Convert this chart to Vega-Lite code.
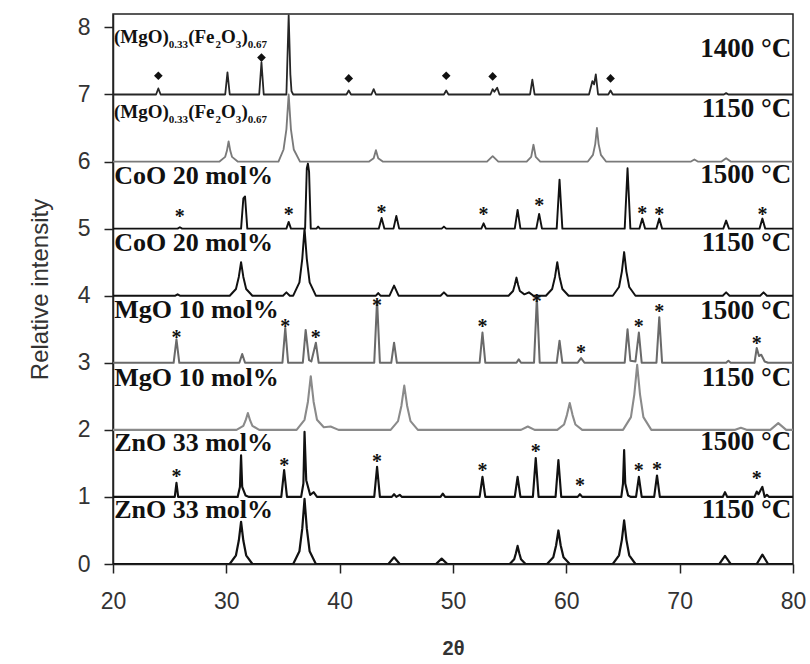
{
  "$schema": "https://vega.github.io/schema/vega-lite/v6.json",
  "width": 680,
  "height": 550,
  "autosize": {"type": "none"},
  "padding": {"left": 113, "top": 14, "right": 17, "bottom": 100},
  "background": "white",
  "datasets": {
    "tr": [
      {"s":"Z0","x":20,"y":0},{"s":"Z0","x":30.3,"y":0},{"s":"Z0","x":30.85,"y":0.13},{"s":"Z0","x":31.1,"y":0.35},{"s":"Z0","x":31.3,"y":0.63},{"s":"Z0","x":31.5,"y":0.35},{"s":"Z0","x":31.75,"y":0.13},{"s":"Z0","x":32.3,"y":0},
      {"s":"Z0","x":35.9,"y":0},{"s":"Z0","x":36.45,"y":0.19},{"s":"Z0","x":36.7,"y":0.53},{"s":"Z0","x":36.9,"y":0.97},{"s":"Z0","x":37.1,"y":0.53},{"s":"Z0","x":37.35,"y":0.19},{"s":"Z0","x":37.9,"y":0},
      {"s":"Z0","x":44.3,"y":0},{"s":"Z0","x":44.8,"y":0.1},{"s":"Z0","x":45.3,"y":0},{"s":"Z0","x":48.5,"y":0},{"s":"Z0","x":49.0,"y":0.08},{"s":"Z0","x":49.5,"y":0},
      {"s":"Z0","x":55.0,"y":0},{"s":"Z0","x":55.4,"y":0.07},{"s":"Z0","x":55.55,"y":0.16},{"s":"Z0","x":55.7,"y":0.27},{"s":"Z0","x":55.85,"y":0.16},{"s":"Z0","x":56.0,"y":0.07},{"s":"Z0","x":56.4,"y":0},
      {"s":"Z0","x":58.3,"y":0},{"s":"Z0","x":58.85,"y":0.1},{"s":"Z0","x":59.1,"y":0.28},{"s":"Z0","x":59.3,"y":0.5},{"s":"Z0","x":59.5,"y":0.28},{"s":"Z0","x":59.75,"y":0.1},{"s":"Z0","x":60.3,"y":0},
      {"s":"Z0","x":64.1,"y":0},{"s":"Z0","x":64.65,"y":0.13},{"s":"Z0","x":64.9,"y":0.36},{"s":"Z0","x":65.1,"y":0.65},{"s":"Z0","x":65.3,"y":0.36},{"s":"Z0","x":65.55,"y":0.13},{"s":"Z0","x":66.1,"y":0},
      {"s":"Z0","x":73.5,"y":0},{"s":"Z0","x":74.0,"y":0.12},{"s":"Z0","x":74.5,"y":0},{"s":"Z0","x":76.8,"y":0},{"s":"Z0","x":77.3,"y":0.14},{"s":"Z0","x":77.8,"y":0},{"s":"Z0","x":80,"y":0},

      {"s":"Z1","x":20,"y":1},{"s":"Z1","x":25.45,"y":1},{"s":"Z1","x":25.6,"y":1.21},{"s":"Z1","x":25.75,"y":1},
      {"s":"Z1","x":31.0,"y":1},{"s":"Z1","x":31.2,"y":1.15},{"s":"Z1","x":31.3,"y":1.62},{"s":"Z1","x":31.4,"y":1.15},{"s":"Z1","x":31.7,"y":1.02},{"s":"Z1","x":32.0,"y":1},
      {"s":"Z1","x":34.85,"y":1},{"s":"Z1","x":35.1,"y":1.4},{"s":"Z1","x":35.35,"y":1},
      {"s":"Z1","x":36.6,"y":1},{"s":"Z1","x":36.8,"y":1.2},{"s":"Z1","x":36.9,"y":1.97},{"s":"Z1","x":37.05,"y":1.25},{"s":"Z1","x":37.4,"y":1.03},{"s":"Z1","x":37.7,"y":1.07},{"s":"Z1","x":38.0,"y":1},
      {"s":"Z1","x":43.05,"y":1},{"s":"Z1","x":43.3,"y":1.45},{"s":"Z1","x":43.55,"y":1},
      {"s":"Z1","x":44.6,"y":1},{"s":"Z1","x":44.8,"y":1.04},{"s":"Z1","x":45.0,"y":1},{"s":"Z1","x":45.3,"y":1.03},{"s":"Z1","x":45.5,"y":1},
      {"s":"Z1","x":48.9,"y":1},{"s":"Z1","x":49.1,"y":1.05},{"s":"Z1","x":49.3,"y":1},
      {"s":"Z1","x":52.35,"y":1},{"s":"Z1","x":52.6,"y":1.3},{"s":"Z1","x":52.85,"y":1},
      {"s":"Z1","x":55.45,"y":1},{"s":"Z1","x":55.7,"y":1.3},{"s":"Z1","x":55.95,"y":1},
      {"s":"Z1","x":57.05,"y":1},{"s":"Z1","x":57.3,"y":1.58},{"s":"Z1","x":57.55,"y":1},
      {"s":"Z1","x":59.05,"y":1},{"s":"Z1","x":59.3,"y":1.55},{"s":"Z1","x":59.55,"y":1},
      {"s":"Z1","x":61.0,"y":1},{"s":"Z1","x":61.2,"y":1.04},{"s":"Z1","x":61.4,"y":1},
      {"s":"Z1","x":64.85,"y":1},{"s":"Z1","x":65.0,"y":1.2},{"s":"Z1","x":65.1,"y":1.7},{"s":"Z1","x":65.2,"y":1.2},{"s":"Z1","x":65.45,"y":1.02},{"s":"Z1","x":65.7,"y":1},
      {"s":"Z1","x":66.15,"y":1},{"s":"Z1","x":66.4,"y":1.3},{"s":"Z1","x":66.65,"y":1},
      {"s":"Z1","x":67.75,"y":1},{"s":"Z1","x":68.0,"y":1.32},{"s":"Z1","x":68.25,"y":1},
      {"s":"Z1","x":73.8,"y":1},{"s":"Z1","x":74.0,"y":1.07},{"s":"Z1","x":74.2,"y":1},
      {"s":"Z1","x":76.6,"y":1},{"s":"Z1","x":76.8,"y":1.08},{"s":"Z1","x":76.95,"y":1.04},{"s":"Z1","x":77.3,"y":1.15},{"s":"Z1","x":77.5,"y":1},{"s":"Z1","x":77.7,"y":1.03},{"s":"Z1","x":77.9,"y":1},{"s":"Z1","x":80,"y":1},

      {"s":"M2","x":20,"y":2},{"s":"M2","x":30.9,"y":2},{"s":"M2","x":31.5,"y":2.06},{"s":"M2","x":31.7,"y":2.14},{"s":"M2","x":31.9,"y":2.25},{"s":"M2","x":32.1,"y":2.14},{"s":"M2","x":32.3,"y":2.06},{"s":"M2","x":32.9,"y":2},
      {"s":"M2","x":36.2,"y":2},{"s":"M2","x":36.9,"y":2.15},{"s":"M2","x":37.2,"y":2.42},{"s":"M2","x":37.45,"y":2.8},{"s":"M2","x":37.7,"y":2.42},{"s":"M2","x":38.0,"y":2.15},{"s":"M2","x":38.6,"y":2.04},{"s":"M2","x":39.2,"y":2.05},{"s":"M2","x":39.9,"y":2},
      {"s":"M2","x":44.5,"y":2},{"s":"M2","x":45.15,"y":2.13},{"s":"M2","x":45.45,"y":2.36},{"s":"M2","x":45.7,"y":2.66},{"s":"M2","x":45.95,"y":2.36},{"s":"M2","x":46.25,"y":2.13},{"s":"M2","x":46.9,"y":2},
      {"s":"M2","x":56.0,"y":2},{"s":"M2","x":56.6,"y":2.05},{"s":"M2","x":57.2,"y":2},
      {"s":"M2","x":59.2,"y":2},{"s":"M2","x":59.8,"y":2.08},{"s":"M2","x":60.05,"y":2.22},{"s":"M2","x":60.3,"y":2.4},{"s":"M2","x":60.55,"y":2.22},{"s":"M2","x":60.8,"y":2.08},{"s":"M2","x":61.4,"y":2},
      {"s":"M2","x":65.0,"y":2},{"s":"M2","x":65.7,"y":2.19},{"s":"M2","x":66.0,"y":2.53},{"s":"M2","x":66.25,"y":2.97},{"s":"M2","x":66.5,"y":2.53},{"s":"M2","x":66.8,"y":2.19},{"s":"M2","x":67.5,"y":2},
      {"s":"M2","x":74.9,"y":2},{"s":"M2","x":75.4,"y":2.03},{"s":"M2","x":75.9,"y":2},{"s":"M2","x":78.0,"y":2},{"s":"M2","x":78.7,"y":2.1},{"s":"M2","x":79.4,"y":2},{"s":"M2","x":80,"y":2},

      {"s":"M3","x":20,"y":3},{"s":"M3","x":25.35,"y":3},{"s":"M3","x":25.6,"y":3.35},{"s":"M3","x":25.85,"y":3},
      {"s":"M3","x":31.15,"y":3},{"s":"M3","x":31.4,"y":3.13},{"s":"M3","x":31.65,"y":3},
      {"s":"M3","x":34.95,"y":3},{"s":"M3","x":35.2,"y":3.52},{"s":"M3","x":35.45,"y":3},
      {"s":"M3","x":36.75,"y":3},{"s":"M3","x":37.0,"y":3.49},{"s":"M3","x":37.3,"y":3.04},{"s":"M3","x":37.5,"y":3.02},{"s":"M3","x":37.9,"y":3.3},{"s":"M3","x":38.15,"y":3},
      {"s":"M3","x":43.05,"y":3},{"s":"M3","x":43.3,"y":3.93},{"s":"M3","x":43.55,"y":3},
      {"s":"M3","x":44.55,"y":3},{"s":"M3","x":44.8,"y":3.3},{"s":"M3","x":45.05,"y":3},
      {"s":"M3","x":52.35,"y":3},{"s":"M3","x":52.6,"y":3.45},{"s":"M3","x":52.85,"y":3},
      {"s":"M3","x":55.6,"y":3},{"s":"M3","x":55.8,"y":3.05},{"s":"M3","x":56.0,"y":3},
      {"s":"M3","x":57.15,"y":3},{"s":"M3","x":57.4,"y":3.97},{"s":"M3","x":57.65,"y":3},
      {"s":"M3","x":59.15,"y":3},{"s":"M3","x":59.4,"y":3.33},{"s":"M3","x":59.65,"y":3},
      {"s":"M3","x":61.0,"y":3},{"s":"M3","x":61.3,"y":3.07},{"s":"M3","x":61.6,"y":3},
      {"s":"M3","x":65.15,"y":3},{"s":"M3","x":65.4,"y":3.5},{"s":"M3","x":65.65,"y":3.03},{"s":"M3","x":66.1,"y":3.02},{"s":"M3","x":66.4,"y":3.45},{"s":"M3","x":66.65,"y":3},
      {"s":"M3","x":67.95,"y":3},{"s":"M3","x":68.2,"y":3.68},{"s":"M3","x":68.45,"y":3},
      {"s":"M3","x":74.1,"y":3},{"s":"M3","x":74.3,"y":3.03},{"s":"M3","x":74.5,"y":3},
      {"s":"M3","x":76.6,"y":3},{"s":"M3","x":76.8,"y":3.22},{"s":"M3","x":77.0,"y":3.1},{"s":"M3","x":77.2,"y":3.12},{"s":"M3","x":77.5,"y":3.02},{"s":"M3","x":77.8,"y":3},{"s":"M3","x":80,"y":3},

      {"s":"C4","x":20,"y":4},{"s":"C4","x":25.5,"y":4},{"s":"C4","x":25.7,"y":4.02},{"s":"C4","x":25.9,"y":4},
      {"s":"C4","x":30.3,"y":4},{"s":"C4","x":30.85,"y":4.1},{"s":"C4","x":31.1,"y":4.28},{"s":"C4","x":31.3,"y":4.5},{"s":"C4","x":31.5,"y":4.28},{"s":"C4","x":31.75,"y":4.1},{"s":"C4","x":32.3,"y":4},
      {"s":"C4","x":35.0,"y":4},{"s":"C4","x":35.3,"y":4.05},{"s":"C4","x":35.6,"y":4},
      {"s":"C4","x":35.9,"y":4},{"s":"C4","x":36.45,"y":4.2},{"s":"C4","x":36.7,"y":4.55},{"s":"C4","x":36.9,"y":5.0},{"s":"C4","x":37.1,"y":4.55},{"s":"C4","x":37.35,"y":4.2},{"s":"C4","x":37.9,"y":4},
      {"s":"C4","x":43.2,"y":4},{"s":"C4","x":43.4,"y":4.04},{"s":"C4","x":43.6,"y":4},
      {"s":"C4","x":44.4,"y":4},{"s":"C4","x":44.8,"y":4.15},{"s":"C4","x":45.2,"y":4},
      {"s":"C4","x":48.9,"y":4},{"s":"C4","x":49.2,"y":4.05},{"s":"C4","x":49.5,"y":4},
      {"s":"C4","x":54.9,"y":4},{"s":"C4","x":55.3,"y":4.07},{"s":"C4","x":55.45,"y":4.16},{"s":"C4","x":55.6,"y":4.27},{"s":"C4","x":55.75,"y":4.16},{"s":"C4","x":55.9,"y":4.07},{"s":"C4","x":56.3,"y":4.02},{"s":"C4","x":56.7,"y":4.05},{"s":"C4","x":57.1,"y":4},
      {"s":"C4","x":58.2,"y":4},{"s":"C4","x":58.75,"y":4.1},{"s":"C4","x":59.0,"y":4.28},{"s":"C4","x":59.2,"y":4.5},{"s":"C4","x":59.4,"y":4.28},{"s":"C4","x":59.65,"y":4.1},{"s":"C4","x":60.2,"y":4},
      {"s":"C4","x":64.1,"y":4},{"s":"C4","x":64.65,"y":4.13},{"s":"C4","x":64.9,"y":4.36},{"s":"C4","x":65.1,"y":4.65},{"s":"C4","x":65.3,"y":4.36},{"s":"C4","x":65.55,"y":4.13},{"s":"C4","x":66.1,"y":4},
      {"s":"C4","x":73.8,"y":4},{"s":"C4","x":74.1,"y":4.05},{"s":"C4","x":74.4,"y":4},{"s":"C4","x":77.1,"y":4},{"s":"C4","x":77.4,"y":4.05},{"s":"C4","x":77.7,"y":4},{"s":"C4","x":80,"y":4},

      {"s":"C5","x":20,"y":5},{"s":"C5","x":25.7,"y":5},{"s":"C5","x":25.9,"y":5.02},{"s":"C5","x":26.1,"y":5},
      {"s":"C5","x":31.3,"y":5},{"s":"C5","x":31.5,"y":5.45},{"s":"C5","x":31.65,"y":5.48},{"s":"C5","x":31.85,"y":5},
      {"s":"C5","x":35.3,"y":5},{"s":"C5","x":35.5,"y":5.1},{"s":"C5","x":35.7,"y":5},
      {"s":"C5","x":36.95,"y":5},{"s":"C5","x":37.1,"y":5.9},{"s":"C5","x":37.2,"y":5.97},{"s":"C5","x":37.3,"y":5.85},{"s":"C5","x":37.45,"y":5},
      {"s":"C5","x":37.95,"y":5},{"s":"C5","x":38.1,"y":5.03},{"s":"C5","x":38.25,"y":5},
      {"s":"C5","x":43.45,"y":5},{"s":"C5","x":43.7,"y":5.16},{"s":"C5","x":43.95,"y":5},
      {"s":"C5","x":44.75,"y":5},{"s":"C5","x":45.0,"y":5.19},{"s":"C5","x":45.25,"y":5},
      {"s":"C5","x":49.0,"y":5},{"s":"C5","x":49.2,"y":5.03},{"s":"C5","x":49.4,"y":5},
      {"s":"C5","x":52.5,"y":5},{"s":"C5","x":52.7,"y":5.08},{"s":"C5","x":52.9,"y":5},
      {"s":"C5","x":55.45,"y":5},{"s":"C5","x":55.7,"y":5.28},{"s":"C5","x":55.95,"y":5},
      {"s":"C5","x":57.35,"y":5},{"s":"C5","x":57.6,"y":5.22},{"s":"C5","x":57.85,"y":5},
      {"s":"C5","x":59.15,"y":5},{"s":"C5","x":59.4,"y":5.73},{"s":"C5","x":59.65,"y":5},
      {"s":"C5","x":65.15,"y":5},{"s":"C5","x":65.4,"y":5.9},{"s":"C5","x":65.65,"y":5},
      {"s":"C5","x":66.45,"y":5},{"s":"C5","x":66.7,"y":5.15},{"s":"C5","x":66.95,"y":5},
      {"s":"C5","x":67.95,"y":5},{"s":"C5","x":68.2,"y":5.15},{"s":"C5","x":68.45,"y":5},
      {"s":"C5","x":73.85,"y":5},{"s":"C5","x":74.1,"y":5.12},{"s":"C5","x":74.35,"y":5},
      {"s":"C5","x":77.05,"y":5},{"s":"C5","x":77.3,"y":5.15},{"s":"C5","x":77.55,"y":5},{"s":"C5","x":80,"y":5},

      {"s":"F6","x":20,"y":6},{"s":"F6","x":29.4,"y":6},{"s":"F6","x":29.9,"y":6.07},{"s":"F6","x":30.05,"y":6.16},{"s":"F6","x":30.2,"y":6.3},{"s":"F6","x":30.35,"y":6.16},{"s":"F6","x":30.5,"y":6.07},{"s":"F6","x":31.0,"y":6},
      {"s":"F6","x":34.6,"y":6},{"s":"F6","x":35.05,"y":6.18},{"s":"F6","x":35.3,"y":6.48},{"s":"F6","x":35.5,"y":7.0},{"s":"F6","x":35.7,"y":6.48},{"s":"F6","x":35.95,"y":6.18},{"s":"F6","x":36.5,"y":6},
      {"s":"F6","x":42.6,"y":6},{"s":"F6","x":43.0,"y":6.05},{"s":"F6","x":43.2,"y":6.17},{"s":"F6","x":43.4,"y":6.05},{"s":"F6","x":43.8,"y":6},
      {"s":"F6","x":53.0,"y":6},{"s":"F6","x":53.5,"y":6.08},{"s":"F6","x":54.0,"y":6},
      {"s":"F6","x":56.5,"y":6},{"s":"F6","x":56.9,"y":6.07},{"s":"F6","x":57.1,"y":6.25},{"s":"F6","x":57.3,"y":6.07},{"s":"F6","x":57.7,"y":6},
      {"s":"F6","x":61.9,"y":6},{"s":"F6","x":62.35,"y":6.1},{"s":"F6","x":62.55,"y":6.26},{"s":"F6","x":62.7,"y":6.5},{"s":"F6","x":62.85,"y":6.26},{"s":"F6","x":63.05,"y":6.1},{"s":"F6","x":63.5,"y":6},
      {"s":"F6","x":71.0,"y":6},{"s":"F6","x":71.3,"y":6.03},{"s":"F6","x":71.6,"y":6},{"s":"F6","x":73.7,"y":6},{"s":"F6","x":74.1,"y":6.05},{"s":"F6","x":74.5,"y":6},{"s":"F6","x":80,"y":6},

      {"s":"F7","x":20,"y":7},{"s":"F7","x":23.8,"y":7},{"s":"F7","x":24.0,"y":7.09},{"s":"F7","x":24.2,"y":7},
      {"s":"F7","x":29.9,"y":7},{"s":"F7","x":30.1,"y":7.33},{"s":"F7","x":30.3,"y":7},
      {"s":"F7","x":32.9,"y":7},{"s":"F7","x":33.1,"y":7.48},{"s":"F7","x":33.3,"y":7},
      {"s":"F7","x":35.3,"y":7},{"s":"F7","x":35.5,"y":8.18},{"s":"F7","x":35.65,"y":7.3},{"s":"F7","x":35.75,"y":7.05},{"s":"F7","x":35.9,"y":7},
      {"s":"F7","x":40.6,"y":7},{"s":"F7","x":40.8,"y":7.06},{"s":"F7","x":41.0,"y":7},
      {"s":"F7","x":42.8,"y":7},{"s":"F7","x":43.0,"y":7.08},{"s":"F7","x":43.2,"y":7},
      {"s":"F7","x":49.2,"y":7},{"s":"F7","x":49.4,"y":7.06},{"s":"F7","x":49.6,"y":7},
      {"s":"F7","x":53.3,"y":7},{"s":"F7","x":53.5,"y":7.08},{"s":"F7","x":53.65,"y":7.04},{"s":"F7","x":53.9,"y":7.1},{"s":"F7","x":54.1,"y":7},
      {"s":"F7","x":56.8,"y":7},{"s":"F7","x":57.0,"y":7.22},{"s":"F7","x":57.2,"y":7},
      {"s":"F7","x":62.0,"y":7},{"s":"F7","x":62.3,"y":7.2},{"s":"F7","x":62.45,"y":7.15},{"s":"F7","x":62.6,"y":7.3},{"s":"F7","x":62.8,"y":7},
      {"s":"F7","x":63.7,"y":7},{"s":"F7","x":63.9,"y":7.06},{"s":"F7","x":64.1,"y":7},
      {"s":"F7","x":73.9,"y":7},{"s":"F7","x":74.1,"y":7.02},{"s":"F7","x":74.3,"y":7},{"s":"F7","x":80,"y":7}
    ],
    "stars": [
      {"x":25.9,"y":5.24},{"x":35.5,"y":5.26},{"x":43.7,"y":5.3},{"x":52.7,"y":5.27},{"x":57.6,"y":5.4},{"x":66.7,"y":5.28},{"x":68.2,"y":5.27},{"x":77.3,"y":5.27},
      {"x":25.6,"y":3.43},{"x":35.2,"y":3.6},{"x":37.9,"y":3.43},{"x":43.3,"y":3.9},{"x":52.6,"y":3.6},{"x":57.4,"y":3.97},{"x":61.3,"y":3.2},{"x":66.4,"y":3.6},{"x":68.2,"y":3.82},{"x":76.8,"y":3.34},
      {"x":25.6,"y":1.36},{"x":35.1,"y":1.52},{"x":43.3,"y":1.58},{"x":52.6,"y":1.45},{"x":57.3,"y":1.73},{"x":61.2,"y":1.22},{"x":66.4,"y":1.45},{"x":68.0,"y":1.46},{"x":76.8,"y":1.33}
    ],
    "diamonds": [
      {"x":24.0,"y":7.28},{"x":33.1,"y":7.55},{"x":40.8,"y":7.24},{"x":49.4,"y":7.28},{"x":53.5,"y":7.27},{"x":63.9,"y":7.24}
    ],
    "leftlab": [
      {"t":"CoO 20 mol%","x":20.1,"y":5.67},{"t":"CoO 20 mol%","x":20.1,"y":4.66},
      {"t":"MgO 10 mol%","x":20.1,"y":3.67},{"t":"MgO 10 mol%","x":20.1,"y":2.65},
      {"t":"ZnO 33 mol%","x":20.1,"y":1.68},{"t":"ZnO 33 mol%","x":20.1,"y":0.69}
    ],
    "rightlab": [
      {"t":"1400 °C","x":79.85,"y":7.56},{"t":"1150 °C","x":79.85,"y":6.66},
      {"t":"1500 °C","x":79.85,"y":5.68},{"t":"1150 °C","x":79.85,"y":4.67},
      {"t":"1500 °C","x":79.85,"y":3.66},{"t":"1150 °C","x":79.85,"y":2.66},
      {"t":"1500 °C","x":79.85,"y":1.7},{"t":"1150 °C","x":79.85,"y":0.69}
    ],
    "fmain": [
      {"t":"(MgO)","x":20.09,"y":7.77},{"t":"(Fe","x":26.63,"y":7.77},{"t":"O","x":29.54,"y":7.77},{"t":")","x":31.33,"y":7.77},
      {"t":"(MgO)","x":20.09,"y":6.65},{"t":"(Fe","x":26.63,"y":6.65},{"t":"O","x":29.54,"y":6.65},{"t":")","x":31.33,"y":6.65}
    ],
    "fsub": [
      {"t":"0.33","x":24.93,"y":7.77},{"t":"2","x":29.05,"y":7.77},{"t":"3","x":30.84,"y":7.77},{"t":"0.67","x":31.89,"y":7.77},
      {"t":"0.33","x":24.93,"y":6.65},{"t":"2","x":29.05,"y":6.65},{"t":"3","x":30.84,"y":6.65},{"t":"0.67","x":31.89,"y":6.65}
    ]
  },
  "encoding": {
    "x": {
      "field": "x", "type": "quantitative",
      "scale": {"domain": [20, 80], "nice": false, "zero": false},
      "axis": {"values": [20, 30, 40, 50, 60, 70, 80], "title": "2θ", "grid": false}
    },
    "y": {
      "field": "y", "type": "quantitative",
      "scale": {"domain": [0, 8.2], "nice": false, "zero": false},
      "axis": {"values": [0, 1, 2, 3, 4, 5, 6, 7, 8], "title": "Relative intensity", "grid": false}
    }
  },
  "layer": [
    {
      "data": {"name": "tr"},
      "mark": {"type": "line", "clip": true, "strokeJoin": "round"},
      "encoding": {
        "detail": {"field": "s", "type": "nominal"},
        "color": {
          "field": "s", "type": "nominal", "legend": null,
          "scale": {"domain": ["Z0","Z1","M2","M3","C4","C5","F6","F7"],
                    "range": ["#111111","#111111","#8a8a8a","#6a6a6a","#111111","#111111","#7a7a7a","#262626"]}
        },
        "strokeWidth": {
          "field": "s", "type": "ordinal", "legend": null,
          "scale": {"domain": ["Z0","Z1","M2","M3","C4","C5","F6","F7"],
                    "range": [2.2, 1.8, 1.3, 1.3, 2.2, 1.8, 1.2, 1.3]}
        }
      }
    },
    {
      "data": {"name": "stars"},
      "mark": {"type": "text", "text": "*", "font": "Liberation Serif", "fontWeight": "bold", "fontSize": 20, "baseline": "middle", "align": "center", "dy": 4, "color": "#111111"}
    },
    {
      "data": {"name": "diamonds"},
      "mark": {"type": "point", "shape": "diamond", "filled": true, "size": 75, "color": "#111111", "opacity": 1}
    },
    {
      "data": {"name": "leftlab"},
      "mark": {"type": "text", "font": "Liberation Serif", "fontWeight": "bold", "fontSize": 26, "align": "left", "baseline": "alphabetic", "color": "#111111"},
      "encoding": {"text": {"field": "t"}}
    },
    {
      "data": {"name": "rightlab"},
      "mark": {"type": "text", "font": "Liberation Serif", "fontWeight": "bold", "fontSize": 27, "align": "right", "baseline": "alphabetic", "color": "#111111"},
      "encoding": {"text": {"field": "t"}}
    },
    {
      "data": {"name": "fmain"},
      "mark": {"type": "text", "font": "Liberation Serif", "fontWeight": "bold", "fontSize": 19, "align": "left", "baseline": "alphabetic", "color": "#111111"},
      "encoding": {"text": {"field": "t"}}
    },
    {
      "data": {"name": "fsub"},
      "mark": {"type": "text", "font": "Liberation Serif", "fontWeight": "bold", "fontSize": 11, "align": "left", "baseline": "alphabetic", "dy": 5, "color": "#111111"},
      "encoding": {"text": {"field": "t"}}
    }
  ],
  "config": {
    "view": {"stroke": "#222222", "strokeWidth": 1.5},
    "axis": {
      "domainColor": "#222222", "domainWidth": 1.5,
      "tickColor": "#222222", "tickWidth": 1.5, "tickSize": 9,
      "labelFont": "Liberation Sans", "labelFontSize": 23, "labelColor": "#333333",
      "titleFont": "Liberation Sans", "titleColor": "#333333"
    },
    "axisX": {"labelPadding": 17, "titleFontSize": 20, "titleFontWeight": "bold", "titlePadding": 25, "labelFlush": false},
    "axisY": {"labelPadding": 14, "titleFontSize": 24, "titleFontWeight": "normal", "titlePadding": 25}
  }
}
